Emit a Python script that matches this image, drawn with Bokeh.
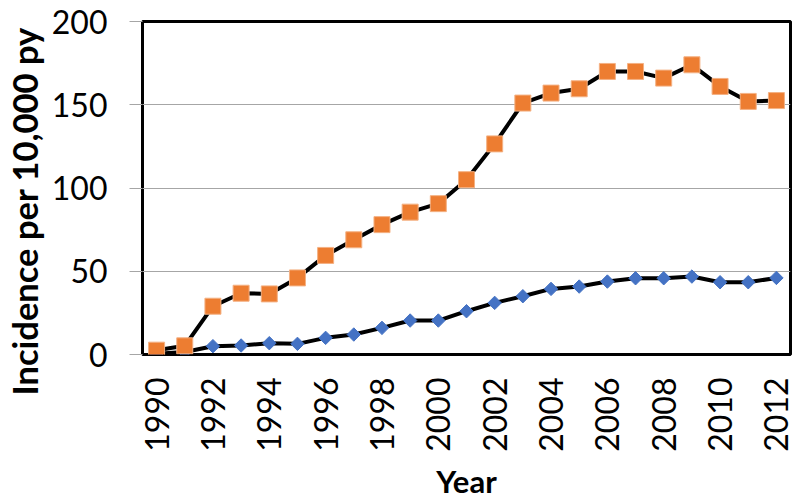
import math
from bokeh.plotting import figure
from bokeh.models import FixedTicker, Range1d, Title
from bokeh.embed import file_html
from bokeh.resources import INLINE

years = list(range(1990, 2013))
series_blue = [0.5, 1.5, 5, 5.4, 6.8, 6.4, 10, 12, 16, 20.4, 20.4, 26, 31, 35, 39.4, 40.8,
               43.8, 45.8, 45.8, 46.8, 43.4, 43.4, 46]
series_orange = [2.6, 5.2, 29, 36.8, 36.4, 46, 59.5, 68.9, 78, 85.5, 90.6, 105, 126.5, 151,
                 157, 159.6, 170, 170, 166, 174, 161, 152, 152.5]
x_tick_values = list(range(1990, 2013, 2))
y_tick_values = [0, 50, 100, 150, 200]

FONT = "Lato"

p = figure(frame_width=648, frame_height=333, output_backend="svg", toolbar_location=None,
           x_range=Range1d(1989.5, 2012.5), y_range=Range1d(0, 200),
           min_border_left=142, min_border_right=10, min_border_top=21,
           min_border_bottom=150)
p.background_fill_color = "white"
p.border_fill_color = "white"
p.outline_line_color = "black"
p.outline_line_width = 3

p.xgrid.grid_line_color = None
p.ygrid.grid_line_color = "#A6A6A6"
p.ygrid.grid_line_width = 1

xa = p.xaxis[0]
xa.ticker = FixedTicker(ticks=x_tick_values)
xa.major_label_orientation = math.pi / 2
xa.major_tick_out = 0
xa.major_tick_in = 0
xa.minor_tick_out = 0
xa.minor_tick_in = 0
xa.axis_line_color = None
xa.major_label_standoff = 23
xa.major_label_text_font = FONT
xa.major_label_text_font_size = "32px"
xa.major_label_text_color = "black"
xa.axis_label = "Year"
xa.axis_label_text_font = FONT
xa.axis_label_text_font_size = "31px"
xa.axis_label_text_font_style = "bold"
xa.axis_label_text_color = "black"
xa.axis_label_standoff = 7

ya = p.yaxis[0]
ya.ticker = FixedTicker(ticks=y_tick_values)
ya.major_tick_out = 13
ya.major_tick_in = 0
ya.major_tick_line_color = "#A6A6A6"
ya.minor_tick_out = 0
ya.minor_tick_in = 0
ya.axis_line_color = None
ya.major_label_standoff = 22
ya.major_label_text_font = FONT
ya.major_label_text_font_size = "32px"
ya.major_label_text_color = "black"
# invisible spacer label to push the title outward
ya.axis_label = " "
ya.axis_label_text_font_size = "1px"
ya.axis_label_standoff = 0

ytitle = Title(text="Incidence per 10,000 py", align="left", offset=-41,
               text_font=FONT, text_font_size="34.5px", text_font_style="bold",
               text_color="black", standoff=0)
p.add_layout(ytitle, "left")

p.line(years, series_blue, line_color="black", line_width=4)
p.scatter(years, series_blue, marker="square", size=9.5, angle=math.pi / 4,
          fill_color="#4472C4", line_color="#4472C4", line_width=1)
p.line(years, series_orange, line_color="black", line_width=4)
p.scatter(years, series_orange, marker="square", size=16,
          fill_color="#ED7D31", line_color="#F4B183", line_width=1)

open("out.html", "w").write(file_html(p, INLINE))
